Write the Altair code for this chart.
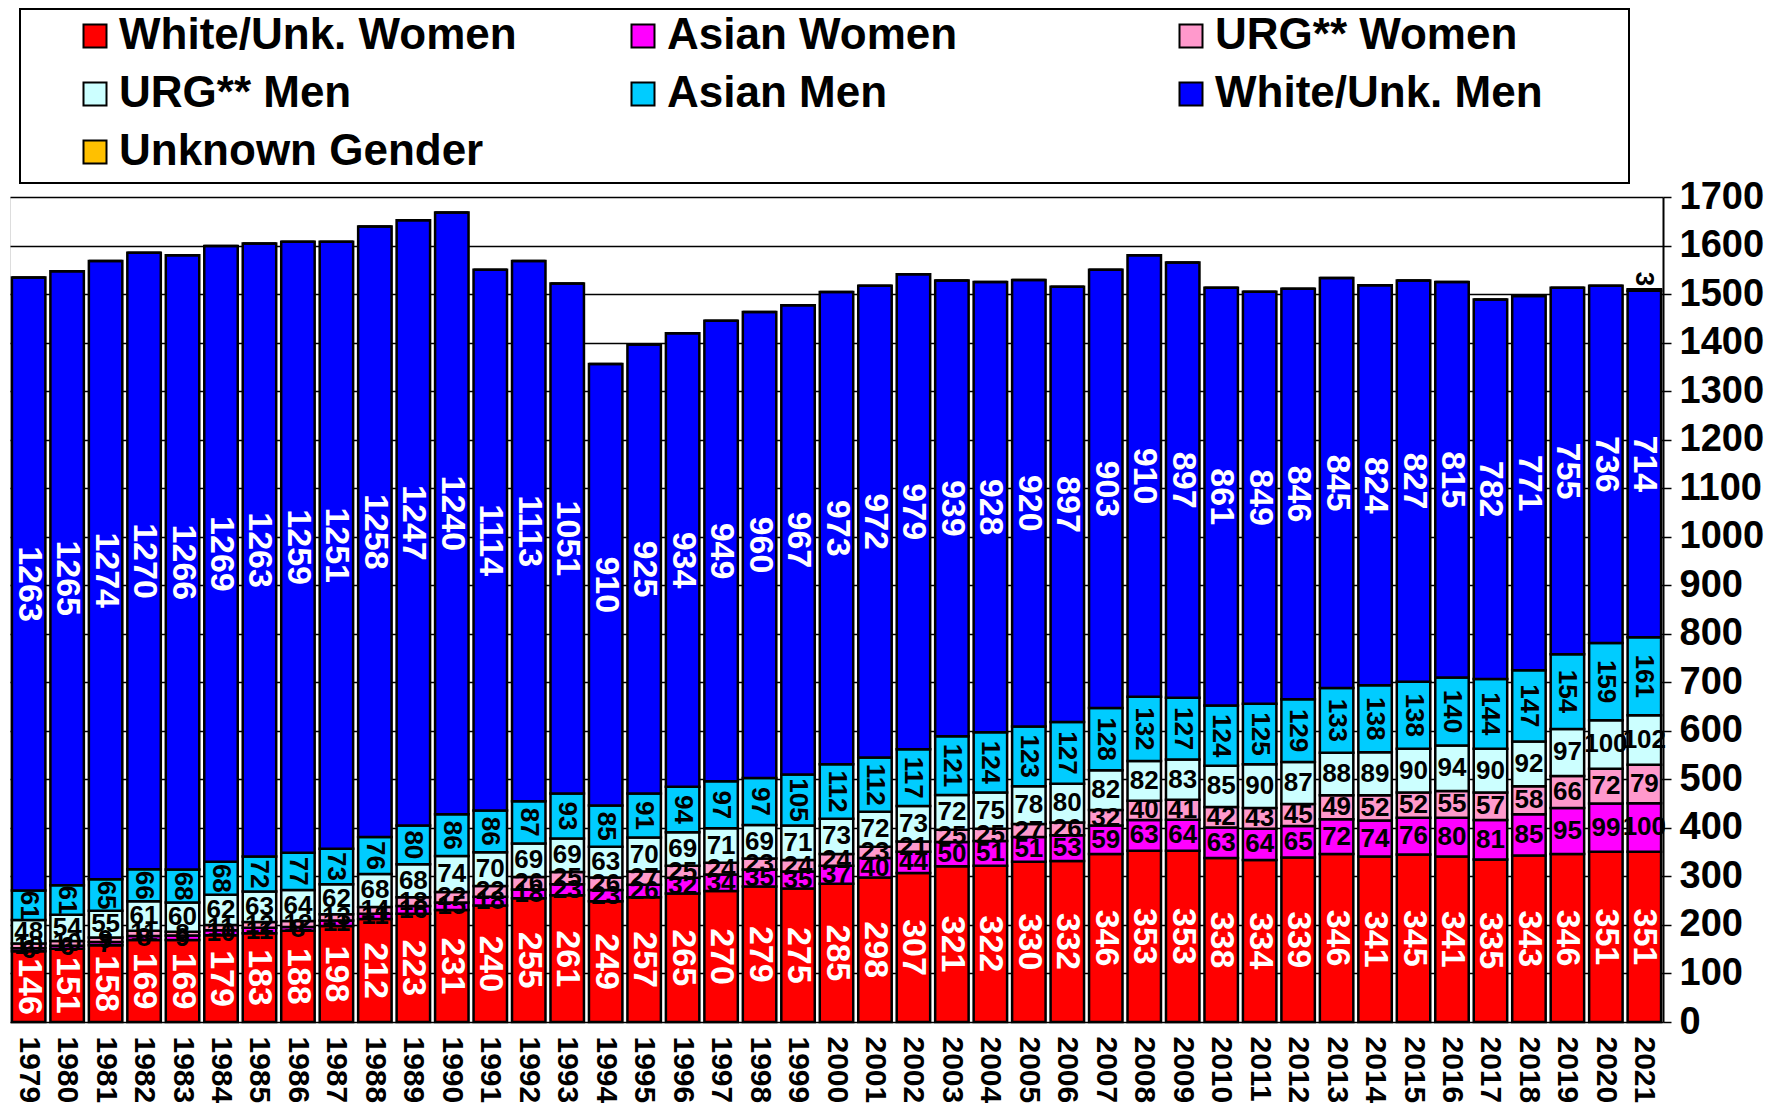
import altair as alt
import pandas as pd

years = ["1979", "1980", "1981", "1982", "1983", "1984", "1985", "1986", "1987", "1988",
         "1989", "1990", "1991", "1992", "1993", "1994", "1995", "1996", "1997", "1998",
         "1999", "2000", "2001", "2002", "2003", "2004", "2005", "2006", "2007", "2008",
         "2009", "2010", "2011", "2012", "2013", "2014", "2015", "2016", "2017", "2018",
         "2019", "2020", "2021"]

white_women = [146, 151, 158, 169, 169, 179, 183, 188, 198, 212, 223, 231, 240, 255, 261,
               249, 257, 265, 270, 279, 275, 285, 298, 307, 321, 322, 330, 332, 346, 353,
               353, 338, 334, 339, 346, 341, 345, 341, 335, 343, 346, 351, 351]
asian_women = [6, 6, 7, 8, 9, 10, 11, 8, 11, 11, 16, 15, 18, 18, 23, 23, 26, 32, 34, 35,
               35, 37, 40, 44, 50, 51, 51, 53, 59, 63, 64, 63, 64, 65, 72, 74, 76, 80, 81,
               85, 95, 99, 100]
urg_women = [10, 10, 9, 11, 8, 11, 12, 12, 13, 14, 18, 22, 22, 26, 25, 26, 27, 25, 24, 23,
             24, 24, 23, 21, 25, 25, 27, 26, 32, 40, 41, 42, 43, 45, 49, 52, 52, 55, 57,
             58, 66, 72, 79]
urg_men = [48, 54, 55, 61, 60, 62, 63, 64, 62, 68, 68, 74, 70, 69, 69, 63, 70, 69, 71, 69,
           71, 73, 72, 73, 72, 75, 78, 80, 82, 82, 83, 85, 90, 87, 88, 89, 90, 94, 90, 92,
           97, 100, 102]
asian_men = [61, 61, 65, 66, 68, 68, 72, 77, 73, 76, 80, 86, 86, 87, 93, 85, 91, 94, 97, 97,
             105, 112, 112, 117, 121, 124, 123, 127, 128, 132, 127, 124, 125, 129, 133, 138,
             138, 140, 144, 147, 154, 159, 161]
white_men = [1263, 1265, 1274, 1270, 1266, 1269, 1263, 1259, 1251, 1258, 1247, 1240, 1114,
             1113, 1051, 910, 925, 934, 949, 960, 967, 973, 972, 979, 939, 928, 920, 897,
             903, 910, 897, 861, 849, 846, 845, 824, 827, 815, 782, 771, 755, 736, 714]
unknown_gender = [0] * 42 + [3]

series_names = ["White/Unk. Women", "Asian Women", "URG** Women", "URG** Men",
                "Asian Men", "White/Unk. Men", "Unknown Gender"]
series_values = [white_women, asian_women, urg_women, urg_men, asian_men, white_men,
                 unknown_gender]
series_colors = ["#FF0000", "#FF00FF", "#FF99CC", "#CCFFFF", "#00CCFF", "#0000FF", "#FFC000"]
y_ticks = [0, 100, 200, 300, 400, 500, 600, 700, 800, 900, 1000, 1100, 1200, 1300, 1400,
           1500, 1600, 1700]

rows = []
for i, yr in enumerate(years):
    cum = 0
    for k, name in enumerate(series_names):
        v = series_values[k][i]
        rows.append({"year": yr, "series": name, "order": k, "value": v,
                     "start": cum, "end": cum + v, "mid": cum + v / 2})
        cum += v
df = pd.DataFrame(rows)

FONT = "Liberation Sans"

x_axis = alt.Axis(title=None, labelAngle=90, labelFont=FONT, labelFontWeight="bold",
                  labelFontSize=30, labelColor="black", ticks=False, domain=False,
                  labelPadding=14, grid=False)
y_axis = alt.Axis(title=None, orient="right", values=y_ticks, format="d", labelFont=FONT,
                  labelFontWeight="bold", labelFontSize=38, labelColor="black",
                  grid=True, gridColor="black", gridWidth=1.5, gridOpacity=1,
                  domainColor="black", domainWidth=2, tickColor="black", tickWidth=1.5,
                  tickSize=8, labelPadding=8)
x_scale = alt.Scale(paddingInner=0.13, paddingOuter=0.05)
y_scale = alt.Scale(domain=[0, 1700], nice=False)

X = alt.X("year:N", sort=years, scale=x_scale, axis=x_axis)

legend = alt.Legend(
    orient="none", legendX=63, legendY=-183, title=None, columns=3, gridAlign="all",
    direction="horizontal",
    columnPadding=104, rowPadding=14, labelFont=FONT, labelFontWeight="bold",
    labelFontSize=44, labelColor="black", labelLimit=1000, labelOffset=2,
    symbolType="square", symbolSize=529, symbolStrokeColor="black",
    symbolStrokeWidth=2, padding=0,
)

bars = alt.Chart(df).mark_bar(stroke="black", strokeWidth=2.5).encode(
    x=X,
    y=alt.Y("start:Q", scale=y_scale, axis=y_axis),
    y2="end:Q",
    color=alt.Color("series:N", scale=alt.Scale(domain=series_names, range=series_colors),
                    legend=legend),
    order=alt.Order("order:Q"),
)

def text_layer(names, angle, color, size, ycol="mid", align="center", dx=0):
    return alt.Chart(df).transform_filter(
        alt.FieldOneOfPredicate(field="series", oneOf=names)
    ).transform_filter("datum.value > 0").mark_text(
        angle=angle, color=color, font=FONT, fontWeight="bold", fontSize=size,
        align=align, baseline="middle", dx=dx,
    ).encode(
        x=X,
        y=alt.Y(f"{ycol}:Q", scale=y_scale, axis=y_axis),
        text="value:Q",
    )

white_labels = text_layer(["White/Unk. Women", "White/Unk. Men"], 90, "white", 34)
rot_labels = text_layer(["Asian Men"], 90, "black", 26)
hor_labels = text_layer(["Asian Women", "URG** Women", "URG** Men"], 0, "black", 26)
unk_labels = text_layer(["Unknown Gender"], 90, "black", 26, ycol="end", align="right", dx=-3)

legend_box = alt.Chart(alt.Data(values=[{"a": 1}])).mark_rect(
    fillOpacity=0, stroke="black", strokeWidth=2
).encode(
    x=alt.value(10), x2=alt.value(1619), y=alt.value(-188), y2=alt.value(-14)
)

chart = alt.layer(
    bars, white_labels, rot_labels, hor_labels, unk_labels, legend_box
).properties(
    width=1653, height=825,
    padding={"left": 2, "top": 0, "right": 0, "bottom": 0},
).configure_view(
    stroke="black", strokeWidth=2
).configure(background="white")

chart.save("out.html", embed_options={"renderer": "svg", "actions": False})
